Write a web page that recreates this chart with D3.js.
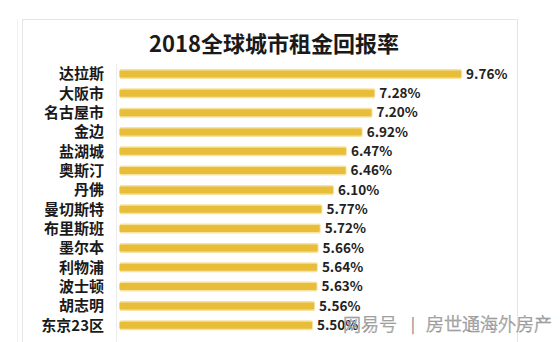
<!DOCTYPE html>
<html><head><meta charset="utf-8">
<script src="https://cdn.jsdelivr.net/npm/d3@7"></script>
<style>html,body{margin:0;padding:0;background:#fff;overflow:hidden}</style>
</head><body>
<svg id="c" width="560" height="342"></svg>
<script>
const title = "2018全球城市租金回报率";
const cities = ["达拉斯","大阪市","名古屋市","金边","盐湖城","奥斯汀","丹佛","曼切斯特","布里斯班","墨尔本","利物浦","波士顿","胡志明","东京23区"];
const values = [9.76,7.28,7.20,6.92,6.47,6.46,6.10,5.77,5.72,5.66,5.64,5.63,5.56,5.50];
const watermarkA = "网易号";
const watermarkB = "|";
const watermarkC = "房世通海外房产";

const svg = d3.select("#c");
const font = "'Noto Sans CJK SC','Noto Sans',sans-serif";

// frame
svg.append("line").attr("x1",17.5).attr("x2",17.5).attr("y1",19).attr("y2",342).attr("stroke","#f2f2f2");
svg.append("rect").attr("x",22.5).attr("y",19.5).attr("width",495).attr("height",340)
  .attr("fill","none").attr("stroke","#e4e4e4").attr("stroke-width",1);

svg.append("text").attr("x",274).attr("y",52).attr("text-anchor","middle")
  .attr("font-family",font).attr("font-weight",700).attr("font-size",22).attr("fill","#1a1a1a")
  .text(title);

const x = d3.scaleLinear().domain([0,10]).range([119.5,469.5]);
const y = d3.scaleBand().domain(cities).range([64.3,64.3+cities.length*19.33]).padding(0);

// faint axis line
svg.append("line").attr("x1",116.5).attr("x2",116.5).attr("y1",64).attr("y2",342).attr("stroke","#ececec");

const bh = 7;
const g = svg.append("g");
g.selectAll("rect.halo").data(values).join("rect").attr("class","halo")
  .attr("x",x(0)).attr("y",(d,i)=>y(cities[i])+y.bandwidth()/2-bh/2-1.5)
  .attr("width",d=>x(d)-x(0)+1).attr("height",bh+3).attr("rx",2)
  .attr("fill","#f6e3a2");
g.selectAll("rect.bar").data(values).join("rect").attr("class","bar")
  .attr("x",x(0)).attr("y",(d,i)=>y(cities[i])+y.bandwidth()/2-bh/2)
  .attr("width",d=>x(d)-x(0)).attr("height",bh).attr("rx",1)
  .attr("fill","#e8bd3a");

g.selectAll("text.val").data(values).join("text").attr("class","val")
  .attr("x",d=>x(d)+5).attr("y",(d,i)=>y(cities[i])+y.bandwidth()/2)
  .attr("dy","0.36em").attr("font-family",font).attr("font-weight",700).attr("font-size",13.5)
  .attr("fill","#222").text(d=>d.toFixed(2)+"%");

g.selectAll("text.cat").data(cities).join("text").attr("class","cat")
  .attr("x",104).attr("y",d=>y(d)+y.bandwidth()/2).attr("text-anchor","end")
  .attr("dy","0.36em").attr("font-family",font).attr("font-weight",700).attr("font-size",15)
  .attr("fill","#1a1a1a").text(d=>d);

// watermark
const wm = svg.append("g").attr("font-family",font).attr("font-size",18).attr("font-weight",300)
  .attr("fill","rgba(255,255,255,0.75)").attr("stroke","#8e8e8e").attr("stroke-width",0.6);
wm.append("text").attr("x",343).attr("y",331).text(watermarkA);
wm.append("text").attr("x",411).attr("y",330).attr("font-size",15).text(watermarkB);
wm.append("text").attr("x",426).attr("y",331).attr("textLength",126).text(watermarkC);
</script>
</body></html>
